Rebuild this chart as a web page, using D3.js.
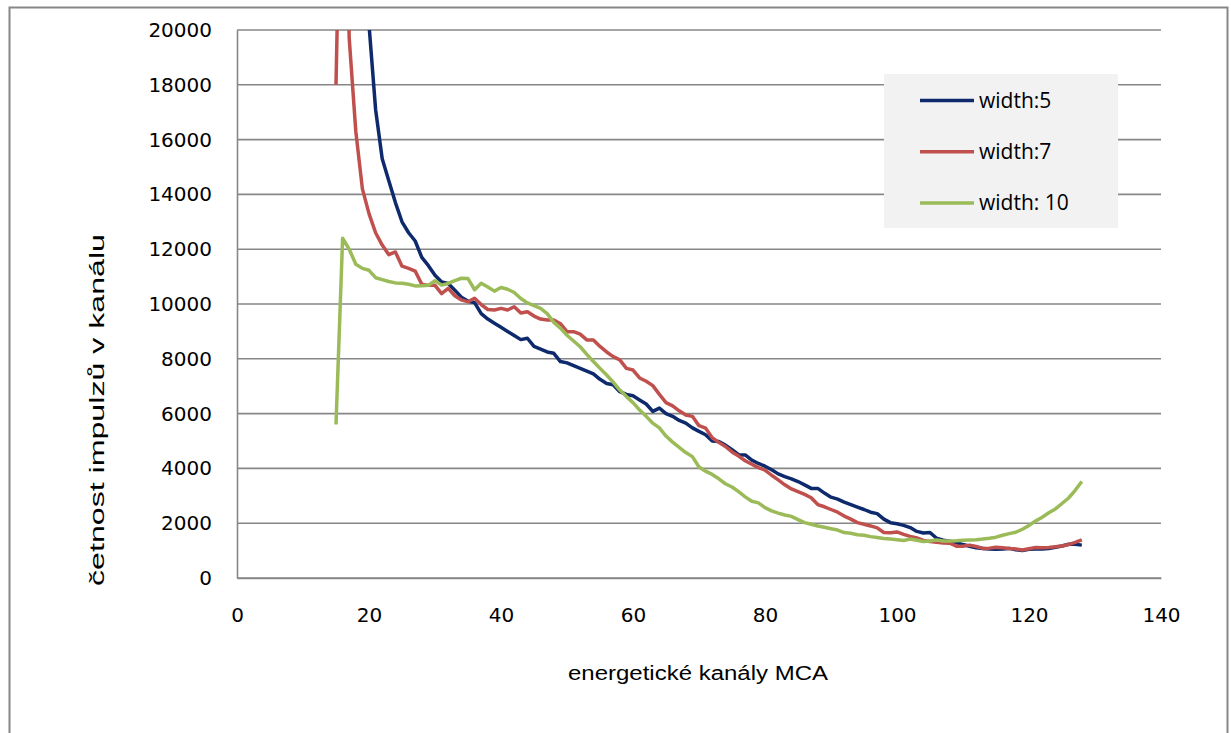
<!DOCTYPE html>
<html>
<head>
<meta charset="utf-8">
<script src="https://cdn.jsdelivr.net/npm/d3@7"></script>
<style>
  body { margin: 0; background: #fff; }
  svg { display: block; }
  .tick text { font-family: "DejaVu Sans", sans-serif; font-size: 20px; fill: #000; }
</style>
</head>
<body>
<div id="chart"></div>
<script>
"use strict";

// MCA channels 15..128
let channels = d3.range(15, 129);

// width:5  (first channels lie above the plot, null = no value)
let width5 = [null, null, null, null, 26000, 20200, 17100, 15300, 14500, 13700,
  13000, 12600, 12300, 11700, 11400, 11050, 10800, 10750, 10500, 10250,
  10100, 10050, 9650, 9450, 9300, 9150, 9000, 8850, 8700, 8750,
  8450, 8350, 8250, 8200, 7900, 7850, 7750, 7650, 7550, 7450,
  7250, 7100, 7050, 6800, 6700, 6650, 6500, 6350, 6080, 6200,
  6000, 5900, 5750, 5650, 5480, 5350, 5230, 5000, 4980, 4850,
  4680, 4500, 4490, 4300, 4180, 4080, 3950, 3800, 3700, 3620,
  3520, 3400, 3270, 3270, 3100, 2950, 2880, 2770, 2680, 2590,
  2500, 2400, 2350, 2150, 2020, 1980, 1920, 1840, 1700, 1640,
  1660, 1450, 1380, 1340, 1290, 1220, 1160, 1100, 1080, 1060,
  1050, 1060, 1080, 1030, 1000, 1050, 1060, 1060, 1080, 1120,
  1170, 1230, 1230, 1200];

// width:7
let width7 = [18000, 30000, 19700, 16300, 14200, 13300, 12600, 12150, 11800, 11900,
  11380, 11300, 11200, 10720, 10680, 10680, 10380, 10570, 10300, 10150,
  10080, 10210, 9980, 9800, 9780, 9840, 9780, 9900, 9670, 9720,
  9560, 9450, 9420, 9420, 9280, 8990, 8990, 8900, 8690, 8690,
  8450, 8250, 8080, 7960, 7650, 7590, 7300, 7180, 7020, 6700,
  6400, 6280, 6100, 5950, 5900, 5560, 5470, 5120, 4950, 4800,
  4600, 4450, 4280, 4150, 4030, 3940, 3750, 3580, 3400, 3250,
  3150, 3050, 2930, 2680, 2600, 2500, 2400, 2260, 2150, 2020,
  1960, 1900, 1830, 1660, 1650, 1680, 1590, 1520, 1460, 1370,
  1330, 1300, 1280, 1270, 1160, 1160, 1200, 1150, 1080, 1090,
  1120, 1100, 1080, 1060, 1020, 1070, 1110, 1100, 1110, 1140,
  1170, 1220, 1300, 1390];

// width: 10
let width10 = [5600, 12400, 12000, 11450, 11300, 11230, 10960, 10890, 10820, 10770,
  10760, 10720, 10660, 10670, 10680, 10850, 10690, 10750, 10850, 10940,
  10930, 10520, 10760, 10620, 10470, 10600, 10540, 10420, 10200, 10040,
  9940, 9840, 9650, 9330, 9120, 8860, 8650, 8440, 8160, 7900,
  7650, 7410, 7150, 6860, 6620, 6400, 6130, 5900, 5650, 5480,
  5180, 4960, 4770, 4580, 4430, 4050, 3900, 3780, 3620, 3440,
  3320, 3150, 2960, 2800, 2740, 2570, 2450, 2370, 2300, 2250,
  2130, 2020, 1960, 1900, 1850, 1800, 1750, 1660, 1630, 1580,
  1560, 1510, 1480, 1440, 1420, 1400, 1370, 1420, 1380, 1330,
  1350, 1390, 1350, 1350, 1360, 1380, 1390, 1400, 1420, 1450,
  1490, 1560, 1620, 1670, 1780, 1920, 2080, 2220, 2380, 2520,
  2720, 2920, 3200, 3520];

let seriesNames = ["width:5", "width:7", "width: 10"];
let seriesColors = ["#0e2a6c", "#c0504d", "#9bbb59"];
let xTicks = [0, 20, 40, 60, 80, 100, 120, 140];
let yTicks = [0, 2000, 4000, 6000, 8000, 10000, 12000, 14000, 16000, 18000, 20000];

let W = 1231, H = 733;
let plotLeft = 237, plotRight = 1161, plotTop = 30, plotBottom = 578;

let svg = d3.select("#chart").append("svg")
            .attr("width", W)
            .attr("height", H);

// outer chart frame
svg.append("rect")
   .attr("x", 9.5).attr("y", 7.5)
   .attr("width", 1218).attr("height", 760)
   .attr("fill", "none")
   .attr("stroke", "#878787")
   .attr("stroke-width", 2);

let x = d3.scaleLinear().domain([0, 140]).range([plotLeft, plotRight]);
let y = d3.scaleLinear().domain([0, 20000]).range([plotBottom, plotTop]);

// horizontal gridlines
svg.append("g")
   .selectAll("line")
   .data(yTicks)
   .join("line")
   .attr("x1", plotLeft).attr("x2", plotRight)
   .attr("y1", d => y(d)).attr("y2", d => y(d))
   .attr("stroke", "#878787")
   .attr("stroke-width", 1.6);

// y axis
let yAxis = svg.append("g")
   .attr("transform", "translate(" + plotLeft + ",0)")
   .call(d3.axisLeft(y).tickValues(yTicks).tickSize(0).tickPadding(25).tickFormat(d3.format("d")));
yAxis.select(".domain").attr("stroke", "#878787").attr("stroke-width", 1.6);

// x axis
let xAxis = svg.append("g")
   .attr("transform", "translate(0," + plotBottom + ")")
   .call(d3.axisBottom(x).tickValues(xTicks).tickSize(0).tickPadding(30).tickFormat(d3.format("d")));
xAxis.select(".domain").attr("stroke", "#878787").attr("stroke-width", 1.6);

// axis titles
svg.append("text")
   .attr("x", 698).attr("y", 680)
   .attr("text-anchor", "middle")
   .attr("font-family", "Liberation Sans, sans-serif")
   .attr("font-size", 20)
   .attr("textLength", 260).attr("lengthAdjust", "spacingAndGlyphs")
   .text("energetické kanály MCA");

svg.append("text")
   .attr("transform", "translate(104,410) rotate(-90)")
   .attr("text-anchor", "middle")
   .attr("font-family", "Liberation Sans, sans-serif")
   .attr("font-size", 20)
   .attr("textLength", 352).attr("lengthAdjust", "spacingAndGlyphs")
   .text("četnost impulzů v kanálu");

// clip lines to the plot area
svg.append("clipPath").attr("id", "plot")
   .append("rect")
   .attr("x", plotLeft).attr("y", plotTop)
   .attr("width", plotRight - plotLeft).attr("height", plotBottom - plotTop);

let allSeries = [width5, width7, width10];
let line = d3.line()
             .defined(d => d[1] !== null)
             .x(d => x(d[0]))
             .y(d => y(d[1]));

svg.append("g")
   .attr("clip-path", "url(#plot)")
   .selectAll("path")
   .data(allSeries)
   .join("path")
   .attr("d", s => line(channels.map((c, i) => [c, s[i]])))
   .attr("fill", "none")
   .attr("stroke", (s, i) => seriesColors[i])
   .attr("stroke-width", 3.5)
   .attr("stroke-linejoin", "round");

// legend
let legend = svg.append("g");
legend.append("rect")
      .attr("x", 884).attr("y", 74)
      .attr("width", 234).attr("height", 154)
      .attr("fill", "#f2f2f2");

seriesNames.forEach((name, i) =>
{
    let ly = 100.5 + i * 51.2;
    legend.append("line")
          .attr("x1", 920).attr("x2", 974)
          .attr("y1", ly).attr("y2", ly)
          .attr("stroke", seriesColors[i])
          .attr("stroke-width", 3.5);
    legend.append("text")
          .attr("x", 979).attr("y", ly + 7)
          .attr("font-family", "Open Sans, sans-serif")
          .attr("font-size", 21)
          .text(name);
});
</script>
</body>
</html>
